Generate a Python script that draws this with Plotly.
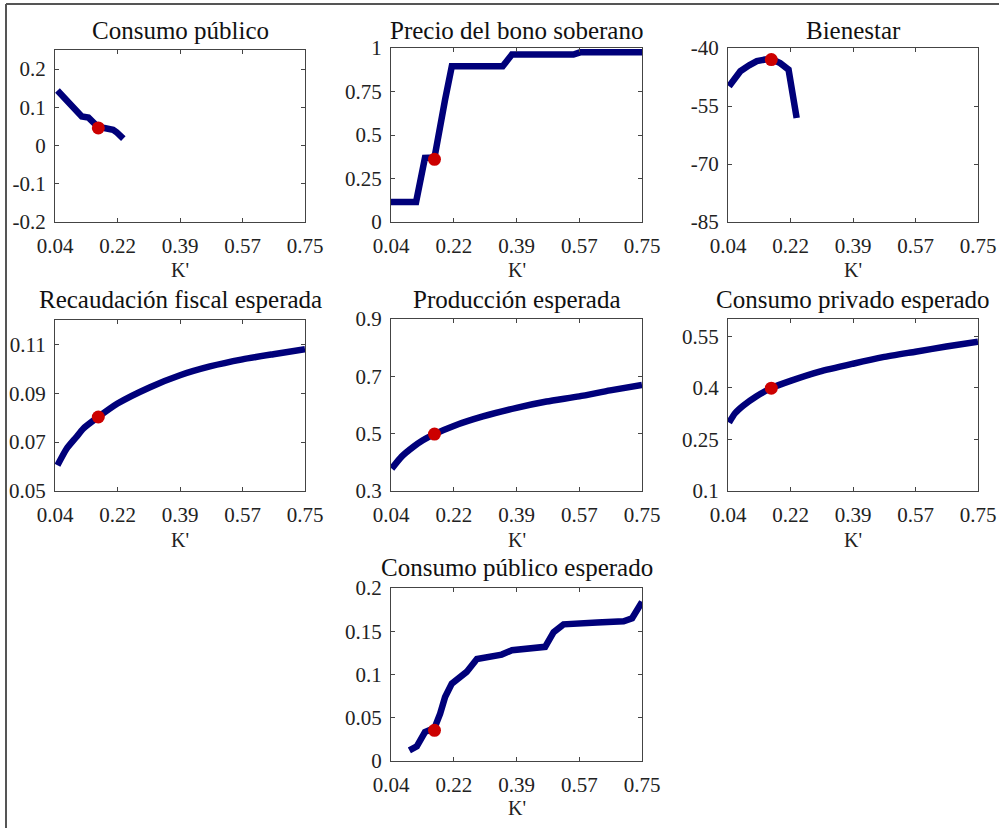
import plotly.graph_objects as go

W, H = 999, 828

# ---------------- data ----------------
k_tickvals = [0.04, 0.2175, 0.395, 0.5725, 0.75]
k_ticktext = ["0.04", "0.22", "0.39", "0.57", "0.75"]

titles = ["Consumo público", "Precio del bono soberano", "Bienestar",
          "Recaudación fiscal esperada", "Producción esperada",
          "Consumo privado esperado", "Consumo público esperado"]

# optimal point (red dot)
k_opt = 0.163

# 1 Consumo público
k_g = [0.047, 0.07, 0.09, 0.116, 0.135, 0.15, 0.163, 0.18, 0.196, 0.205, 0.215, 0.234]
g = [0.144, 0.122, 0.100, 0.076, 0.073, 0.062, 0.048, 0.046, 0.044, 0.041, 0.035, 0.018]
g_opt = 0.046

# 2 Precio del bono soberano
k_q = [0.04, 0.111, 0.136, 0.163, 0.193, 0.212, 0.356, 0.382, 0.556, 0.575, 0.75]
q = [0.115, 0.115, 0.368, 0.37, 0.703, 0.895, 0.895, 0.962, 0.962, 0.975, 0.975]
q_opt = 0.36

# 3 Bienestar
k_w = [0.043, 0.06, 0.075, 0.10, 0.122, 0.145, 0.165, 0.188, 0.212, 0.235]
w = [-49.9, -47.8, -46.0, -44.5, -43.4, -43.0, -42.9, -43.9, -45.6, -58.1]
w_opt = -43.0

# 4 Recaudación fiscal esperada
k_t = [0.047, 0.073, 0.10, 0.120, 0.163, 0.2175, 0.31, 0.395, 0.48, 0.5725, 0.66, 0.75]
t = [0.0605, 0.0673, 0.0720, 0.0755, 0.0803, 0.0858, 0.0925, 0.0974, 0.1010, 0.1039, 0.1060, 0.1080]
t_opt = 0.0803

# 5 Producción esperada
k_y = [0.042, 0.07, 0.103, 0.13, 0.163, 0.2175, 0.30, 0.395, 0.48, 0.5725, 0.66, 0.75]
y = [0.378, 0.420, 0.454, 0.477, 0.4985, 0.527, 0.560, 0.590, 0.612, 0.630, 0.651, 0.670]
y_opt = 0.4985

# 6 Consumo privado esperado
k_c = [0.043, 0.06, 0.083, 0.12, 0.163, 0.2175, 0.30, 0.395, 0.48, 0.5725, 0.66, 0.75]
c = [0.299, 0.326, 0.348, 0.375, 0.399, 0.420, 0.447, 0.470, 0.489, 0.505, 0.520, 0.534]
c_opt = 0.399

# 7 Consumo público esperado
k_eg = [0.092, 0.113, 0.136, 0.163, 0.179, 0.193, 0.212, 0.231, 0.254, 0.283, 0.311, 0.353,
        0.382, 0.434, 0.476, 0.50, 0.528, 0.623, 0.698, 0.722, 0.75]
eg = [0.0123, 0.017, 0.0335, 0.038, 0.0547, 0.074, 0.0895, 0.095, 0.103, 0.118, 0.1206, 0.123,
      0.128, 0.130, 0.132, 0.149, 0.158, 0.160, 0.1615, 0.165, 0.184]
eg_opt = 0.0355

y_ranges = [[-0.2, 0.25], [0, 1], [-85, -40], [0.05, 0.12], [0.3, 0.9], [0.1, 0.6], [0, 0.2]]
y_tickvals = [[-0.2, -0.1, 0, 0.1, 0.2], [0, 0.25, 0.5, 0.75, 1], [-85, -70, -55, -40],
              [0.05, 0.07, 0.09, 0.11], [0.3, 0.5, 0.7, 0.9], [0.1, 0.25, 0.4, 0.55],
              [0, 0.05, 0.1, 0.15, 0.2]]
y_ticktext = [["-0.2", "-0.1", "0", "0.1", "0.2"], ["0", "0.25", "0.5", "0.75", "1"],
              ["-85", "-70", "-55", "-40"], ["0.05", "0.07", "0.09", "0.11"],
              ["0.3", "0.5", "0.7", "0.9"], ["0.1", "0.25", "0.4", "0.55"],
              ["0", "0.05", "0.1", "0.15", "0.2"]]

series = [(k_g, g, g_opt), (k_q, q, q_opt), (k_w, w, w_opt), (k_t, t, t_opt),
          (k_y, y, y_opt), (k_c, c, c_opt), (k_eg, eg, eg_opt)]
smooth = [False, False, False, True, True, True, False]

# ---------------- layout (pixel boxes of each panel) ----------------
boxes = [(55, 50, 305, 222), (391, 48, 642, 222), (728, 48, 978, 222),
         (55, 320, 305, 491), (391, 319, 642, 491), (728, 319, 978, 491),
         (391, 588, 642, 761)]
title_y = [31, 31, 31, 299, 299, 299, 567]
klabel_y = [270, 270, 270, 540, 540, 540, 808]

FONT = "Liberation Serif"
NAVY = "#00007a"
RED = "#cc0000"
FRAME = "#444444"

fig = go.Figure()
annotations = []
layout_axes = {}
for i, ((kx, vy, vopt), (x0, y0, x1, y1)) in enumerate(zip(series, boxes)):
    n = i + 1
    xa = "x" if n == 1 else f"x{n}"
    ya = "y" if n == 1 else f"y{n}"
    line = dict(color=NAVY, width=6.5)
    if smooth[i]:
        line.update(shape="spline", smoothing=0.6)
    fig.add_trace(go.Scatter(x=kx, y=vy, mode="lines", xaxis=xa, yaxis=ya,
                             line=line, showlegend=False, hoverinfo="skip"))
    fig.add_trace(go.Scatter(x=[k_opt], y=[vopt], mode="markers", xaxis=xa, yaxis=ya,
                             marker=dict(color=RED, size=13, line=dict(width=0)),
                             showlegend=False, hoverinfo="skip"))
    common = dict(showgrid=False, zeroline=False, showline=True, linecolor=FRAME,
                  linewidth=1, mirror="ticks", ticks="inside", ticklen=4,
                  tickcolor=FRAME, automargin=False,
                  tickfont=dict(family=FONT, size=21, color="#222222"))
    layout_axes["xaxis" if n == 1 else f"xaxis{n}"] = dict(
        domain=[x0 / W, x1 / W], range=[0.04, 0.75], tickvals=k_tickvals,
        ticktext=k_ticktext, anchor=ya, ticklabelstandoff=5, **common)
    layout_axes["yaxis" if n == 1 else f"yaxis{n}"] = dict(
        domain=[1 - y1 / H, 1 - y0 / H], range=y_ranges[i], tickvals=y_tickvals[i],
        ticktext=y_ticktext[i], anchor=xa, ticklabelstandoff=4, **common)
    annotations.append(dict(text=titles[i], xref="paper", yref="paper",
                            x=(x0 + x1) / 2 / W, y=1 - title_y[i] / H,
                            xanchor="center", yanchor="middle", showarrow=False,
                            font=dict(family=FONT, size=25, color="#111111")))
    annotations.append(dict(text="K'", xref="paper", yref="paper",
                            x=(x0 + x1) / 2 / W, y=1 - klabel_y[i] / H,
                            xanchor="center", yanchor="middle", showarrow=False,
                            font=dict(family=FONT, size=20, color="#222222")))

shapes = [
    dict(type="line", xref="paper", yref="paper", x0=6 / W, x1=1, y0=1 - 4 / H, y1=1 - 4 / H,
         line=dict(color="#555555", width=2)),
    dict(type="line", xref="paper", yref="paper", x0=6 / W, x1=6 / W, y0=0, y1=1 - 4 / H,
         line=dict(color="#555555", width=2)),
]

fig.update_layout(width=W, height=H, margin=dict(l=0, r=0, t=0, b=0, autoexpand=False),
                  paper_bgcolor="white", plot_bgcolor="white",
                  annotations=annotations, shapes=shapes,
                  font=dict(family=FONT), **layout_axes)

fig.write_html("out.html")
